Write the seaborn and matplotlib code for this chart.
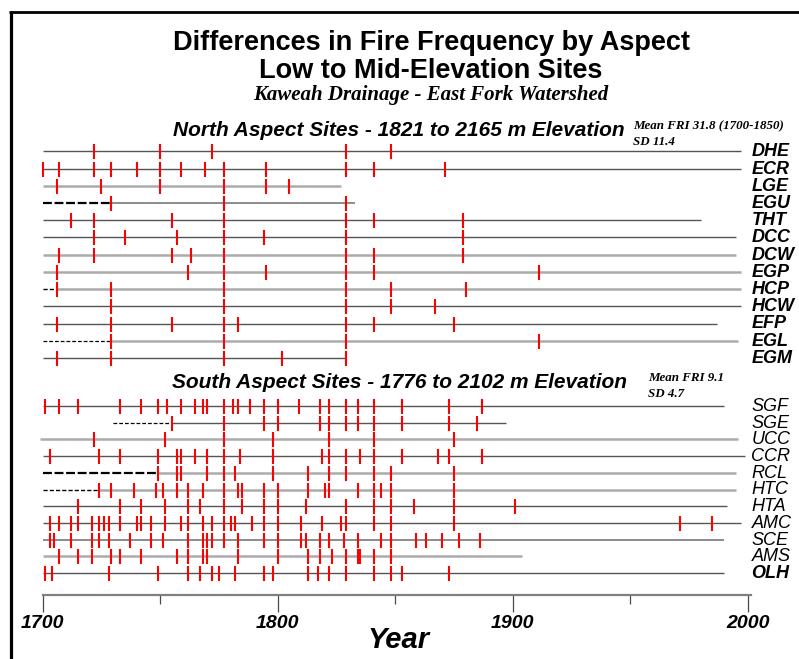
import matplotlib
matplotlib.use("Agg")
import matplotlib.pyplot as plt
from matplotlib.lines import Line2D
import pandas as pd
import seaborn as sns

# ---------------------------------------------------------------- fire-scar years
# North aspect sites
dhe = [1722, 1750, 1772, 1829, 1848]
ecr = [1700, 1707, 1722, 1729, 1740, 1750, 1759, 1769, 1777, 1795, 1829, 1841, 1871]
lge = [1706, 1725, 1750, 1777, 1795, 1805]
egu = [1729, 1777, 1829]
tht = [1712, 1722, 1755, 1777, 1829, 1841, 1879]
dcc = [1722, 1735, 1757, 1777, 1794, 1829, 1879]
dcw = [1707, 1722, 1755, 1763, 1777, 1829, 1841, 1879]
egp = [1706, 1762, 1777, 1795, 1829, 1841, 1911]
hcp = [1706, 1729, 1777, 1829, 1848, 1880]
hcw = [1729, 1777, 1829, 1848, 1867]
efp = [1706, 1729, 1755, 1777, 1783, 1829, 1841, 1875]
egl = [1729, 1777, 1829, 1911]
egm = [1706, 1729, 1777, 1802, 1829]

# South aspect sites
sgf = [1701, 1707, 1715, 1733, 1742, 1749, 1753, 1759, 1765, 1768, 1770, 1777, 1781,
       1783, 1788, 1794, 1800, 1809, 1818, 1822, 1829, 1834, 1841, 1853, 1873, 1887]
sge = [1755, 1777, 1794, 1800, 1818, 1822, 1829, 1834, 1841, 1853, 1873, 1885]
ucc = [1722, 1752, 1777, 1798, 1822, 1841, 1875]
ccr = [1703, 1724, 1733, 1749, 1757, 1759, 1765, 1770, 1777, 1784, 1798, 1819, 1822,
       1829, 1835, 1841, 1853, 1868, 1873, 1887]
rcl = [1749, 1757, 1759, 1770, 1777, 1782, 1798, 1813, 1822, 1829, 1841, 1848, 1875]
htc = [1724, 1729, 1739, 1748, 1751, 1757, 1762, 1768, 1777, 1783, 1785, 1794, 1800,
       1813, 1820, 1822, 1834, 1841, 1844, 1848, 1875]
hta = [1715, 1733, 1742, 1752, 1762, 1767, 1777, 1785, 1794, 1800, 1812, 1829, 1841,
       1848, 1858, 1875, 1901]
amc = [1703, 1707, 1712, 1715, 1721, 1724, 1726, 1728, 1733, 1740, 1742, 1746, 1752,
       1759, 1762, 1768, 1772, 1777, 1780, 1782, 1789, 1794, 1800, 1810, 1819, 1827,
       1829, 1841, 1848, 1875, 1971, 1985]
sce = [1703, 1705, 1712, 1721, 1724, 1728, 1737, 1746, 1751, 1762, 1768, 1770, 1772,
       1777, 1783, 1794, 1800, 1810, 1812, 1818, 1822, 1828, 1834, 1844, 1848, 1859,
       1863, 1870, 1877, 1886]
ams = [1707, 1715, 1721, 1729, 1733, 1742, 1757, 1762, 1768, 1770, 1783, 1800, 1813,
       1818, 1823, 1829, 1834, 1835, 1841, 1848]
olh = [1701, 1704, 1728, 1749, 1762, 1767, 1772, 1775, 1782, 1794, 1798, 1813, 1817,
       1822, 1829, 1841, 1848, 1853, 1873]

north_sites = ["DHE", "ECR", "LGE", "EGU", "THT", "DCC", "DCW", "EGP", "HCP", "HCW",
               "EFP", "EGL", "EGM"]
north_scars = [dhe, ecr, lge, egu, tht, dcc, dcw, egp, hcp, hcw, efp, egl, egm]
north_first = [1700] * 13
north_recording_from = [1700, 1700, 1700, 1729, 1700, 1700, 1700, 1700, 1706, 1700,
                        1700, 1729, 1700]
north_last = [1997, 1997, 1827, 1833, 1980, 1995, 1995, 1997, 1997, 1997, 1987, 1996, 1829]

south_sites = ["SGF", "SGE", "UCC", "CCR", "RCL", "HTC", "HTA", "AMC", "SCE", "AMS", "OLH"]
south_scars = [sgf, sge, ucc, ccr, rcl, htc, hta, amc, sce, ams, olh]
south_first = [1700, 1730, 1699, 1700, 1700, 1700, 1700, 1700, 1700, 1700, 1700]
south_recording_from = [1700, 1755, 1699, 1700, 1749, 1724, 1700, 1700, 1700, 1700, 1700]
south_last = [1990, 1897, 1996, 1999, 1995, 1995, 1991, 1997, 1990, 1904, 1990]

year_ticks = [1700, 1800, 1900, 2000]
year_minor = [1750, 1850, 1950]

# ---------------------------------------------------------------- line styling
north_tone = ["dark", "dark", "light", "mid", "dark", "dark", "light", "light", "light",
              "dark", "dark", "light", "dark"]
south_tone = ["dark", "dark", "light", "dark", "light", "light", "dark", "dark", "mid",
              "light", "dark"]
north_dash = [None, None, None, "heavy", None, None, None, None, "thin", None, None,
              "fine", None]
south_dash = [None, "fine", None, None, "heavy", "thin", None, None, None, None, None]
south_bold = [False] * 10 + [True]

TONES = {"dark": ("#555555", 1.0), "mid": ("#8c8c8c", 1.4), "light": ("#ababab", 1.8)}
DASHES = {"heavy": (1.6, (4, 1.2)), "thin": (1.0, (3, 1.5)), "fine": (0.9, (3, 1.6))}

# ---------------------------------------------------------------- figure geometry
W, H, DPI = 799, 659, 100
PX_1700, PX_2000 = 42.7, 747.7
px_per_year = (PX_2000 - PX_1700) / 300.0
x_left = 1700 - PX_1700 / px_per_year
x_right = x_left + W / px_per_year

north_y0, north_step = 151.3, 17.22
south_y0, south_step = 406.0, 16.7
axis_y = 594.7
tick_half = 7.5  # half-length of a scar mark, in pixels

sns.set_style("white")
plt.rcParams["font.family"] = ["Liberation Sans", "DejaVu Sans"]
plt.rcParams["text.color"] = "black"
plt.rcParams["xtick.color"] = "#4a4a4a"
plt.rcParams["xtick.labelcolor"] = "black"

fig = plt.figure(figsize=(W / DPI, H / DPI), dpi=DPI)
ax = fig.add_axes([0, 0, 1, 1])
ax.set_xlim(x_left, x_right)
ax.set_ylim(H, 0)
ax.patch.set_alpha(0)


def draw_section(sites, scars, first, rec_from, last, tones, dashes, y0, step, bold):
    rows = []
    for i, site in enumerate(sites):
        y = y0 + i * step
        color, lw = TONES[tones[i]]
        if dashes[i] is not None:
            dlw, pattern = DASHES[dashes[i]]
            ax.plot([first[i], rec_from[i]], [y, y], color="black", lw=dlw,
                    dashes=pattern, solid_capstyle="butt", zorder=2)
        ax.plot([rec_from[i], last[i]], [y, y], color=color, lw=lw,
                solid_capstyle="butt", zorder=1)
        for yr in scars[i]:
            rows.append({"site": site, "year": yr, "row": y})
        weight = "bold" if bold[i] else "normal"
        ax.text(2001.6, y + 0.5, site, ha="left", va="center", fontsize=13,
                fontstyle="italic", fontweight=weight, color="black")
    df = pd.DataFrame(rows)
    sns.scatterplot(data=df, x="year", y="row", marker="|", s=(2 * tick_half * 0.72) ** 2,
                    color="#ff0000", linewidth=1.5, legend=False, ax=ax, zorder=3)


draw_section(north_sites, north_scars, north_first, north_recording_from, north_last,
             north_tone, north_dash, north_y0, north_step, [True] * len(north_sites))
draw_section(south_sites, south_scars, south_first, south_recording_from, south_last,
             south_tone, south_dash, south_y0, south_step, south_bold)

# ---------------------------------------------------------------- year axis
for side in ["top", "left", "right"]:
    ax.spines[side].set_visible(False)
ax.spines["bottom"].set_position(("data", axis_y))
ax.spines["bottom"].set_bounds(1700, 2001.3)
ax.spines["bottom"].set_color("#808080")
ax.spines["bottom"].set_linewidth(1.6)
ax.set_yticks([])
ax.set_xticks(year_ticks)
ax.set_xticklabels([str(t) for t in year_ticks])
ax.set_xticks(year_minor, minor=True)
ax.tick_params(axis="x", which="both", bottom=True, top=False)
ax.tick_params(axis="x", which="major", direction="out", length=12.3, width=0.9,
               color="#4a4a4a", pad=2.5, labelsize=14, labelcolor="black")
ax.tick_params(axis="x", which="minor", direction="out", length=6.3, width=0.9,
               color="#4a4a4a")
for lab in ax.get_xticklabels():
    lab.set_fontweight("bold")
    lab.set_fontstyle("italic")
ax.set_xlabel("")
ax.set_ylabel("")
ax.grid(False)


def ftext(px, py, s, **kw):
    fig.text(px / W, 1 - py / H, s, color="black", **kw)


ftext(399, 640, "Year", ha="center", va="center", fontsize=21, fontweight="bold",
      fontstyle="italic")

# ---------------------------------------------------------------- titles
ftext(431, 43, "Differences in Fire Frequency by Aspect", ha="center", va="center",
      fontsize=19.5, fontweight="bold")
ftext(431, 71, "Low to Mid-Elevation Sites", ha="center", va="center",
      fontsize=19.5, fontweight="bold")
ftext(431, 95, "Kaweah Drainage - East Fork Watershed", ha="center", va="center",
      fontsize=15, fontweight="bold", fontstyle="italic", family="Liberation Serif")

ftext(399, 130, "North Aspect Sites - 1821 to 2165 m Elevation", ha="center",
      va="center", fontsize=15, fontweight="bold", fontstyle="italic")
ftext(633, 126, "Mean FRI 31.8 (1700-1850)", ha="left", va="center", fontsize=9.4,
      fontweight="bold", fontstyle="italic", family="Liberation Serif")
ftext(633, 142, "SD 11.4", ha="left", va="center", fontsize=9.4,
      fontweight="bold", fontstyle="italic", family="Liberation Serif")

ftext(399, 382, "South Aspect Sites - 1776 to 2102 m Elevation", ha="center",
      va="center", fontsize=15, fontweight="bold", fontstyle="italic")
ftext(648, 378, "Mean FRI 9.1", ha="left", va="center", fontsize=9.4,
      fontweight="bold", fontstyle="italic", family="Liberation Serif")
ftext(648, 394, "SD 4.7", ha="left", va="center", fontsize=9.4,
      fontweight="bold", fontstyle="italic", family="Liberation Serif")

# ---------------------------------------------------------------- border
fig.add_artist(Line2D([10.5 / W, 10.5 / W], [1 - 11 / H, 0], transform=fig.transFigure,
                      color="black", lw=2.3, solid_capstyle="butt"))
fig.add_artist(Line2D([9 / W, 1], [1 - 12 / H, 1 - 12 / H], transform=fig.transFigure,
                      color="black", lw=2.0, solid_capstyle="butt"))

fig.savefig("out.png", dpi=DPI, facecolor="white")
